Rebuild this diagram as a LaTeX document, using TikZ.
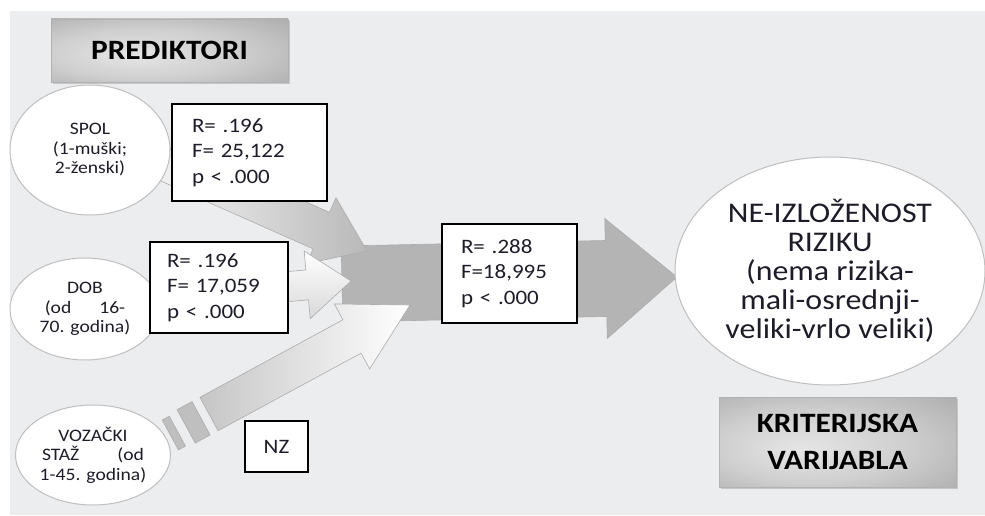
\documentclass[tikz,border=0pt]{standalone}
\usepackage{fontspec}
\setmainfont{Carlito}[FakeStretch=1.12]
\usetikzlibrary{calc,shapes.geometric,shadows}
\definecolor{BGGRAY}{RGB}{236,237,239}
\definecolor{ARROWGRAY}{RGB}{180,180,180}
\definecolor{INK}{RGB}{30,28,40}
\pgfdeclareradialshading{BUBBLESHADE}{\pgfpoint{0bp}{0bp}}{color(0bp)=(white); color(32bp)=(white); color(44bp)=(gray!20); color(50bp)=(gray!45)}
\pgfdeclareradialshading{HEADSHADE}{\pgfpoint{-8bp}{-4bp}}{color(0bp)=(gray!20); color(20bp)=(gray!38); color(45bp)=(gray!72); color(60bp)=(gray!88)}
\tikzset{
BUBBLE/.style={ellipse, draw=gray!50, line width=1pt, shade, shading=BUBBLESHADE, align=center, inner sep=0pt, text=INK, font=\fontsize{17.5}{19.5}\selectfont},
VALBOX/.style={draw=black, line width=1.4pt, fill=white, align=left, inner sep=0pt, text=INK, font=\fontsize{20.5}{25.5}\selectfont},
HEADER/.style={draw=gray!60, line width=0.8pt, shade, shading=HEADSHADE, align=center, text=black, font=\bfseries\fontsize{28}{37}\selectfont, drop shadow={shadow xshift=1.5pt, shadow yshift=-2pt, opacity=0.35}},
ARC/.style={draw=gray!65, line width=0.6pt, line join=miter},
}
% block arrow: style, tail, tip, half shaft, half head, head length
\newcommand{\blockarrow}[6]{%
  \coordinate (ba) at ($(#3)!#6!(#2)$);
  \path[#1] ($(#2)!#4!90:(#3)$) -- ($(ba)!#4!90:(#3)$) -- ($(ba)!#5!90:(#3)$) -- (#3)
    -- ($(ba)!#5!-90:(#3)$) -- ($(ba)!#4!-90:(#3)$) -- ($(#2)!#4!-90:(#3)$) -- cycle;}
% straight piece between two points: style, from, to, half width
\newcommand{\blockseg}[4]{%
  \path[#1] ($(#2)!#4!90:(#3)$) -- ($(#3)!#4!-90:(#2)$) -- ($(#3)!#4!90:(#2)$) -- ($(#2)!#4!-90:(#3)$) -- cycle;}

\begin{document}
\begin{tikzpicture}[x=1pt, y=-1pt] % prediktori -> kriterij
	\useasboundingbox (0,0) rectangle (985,516);
	\fill[BGGRAY] (10,11) rectangle (985,515);
	\coordinate (sumTail) at (342,284);
	\coordinate (sumTip) at (677,277);
	\coordinate (spolTail) at (165,161);
	\coordinate (spolTip) at (367,251);
	\coordinate (dobTail) at (160,298);
	\coordinate (dobTip) at (351,281);
	\coordinate (vozTail) at (209,414);
	\coordinate (vozTip) at (410,305);
	\blockarrow{ARC, fill=ARROWGRAY}{sumTail}{sumTip}{38pt}{60pt}{71pt}
	\blockarrow{ARC, left color=gray!10, right color=gray!55}{spolTail}{spolTip}{20pt}{36pt}{50pt}
	\blockarrow{ARC, top color=white, bottom color=gray!30}{dobTail}{dobTip}{15pt}{34pt}{44pt}
	\blockarrow{ARC, left color=gray!45, right color=white}{vozTail}{vozTip}{19pt}{37pt}{66pt}
	\coordinate (dashA) at ($(vozTail)!-9pt!(vozTip)$);
	\coordinate (dashB) at ($(vozTail)!-26pt!(vozTip)$);
	\coordinate (dashC) at ($(vozTail)!-36pt!(vozTip)$);
	\coordinate (dashD) at ($(vozTail)!-44pt!(vozTip)$);
	\blockseg{ARC, fill=gray!50}{dashA}{dashB}{19pt}
	\blockseg{ARC, fill=gray!50}{dashC}{dashD}{17pt}

	\node[HEADER, minimum width=237pt, minimum height=63pt] (pred) at (169.5,50.5) {PREDIKTORI};
	\node[BUBBLE, minimum width=160pt, minimum height=130pt] (spol) at (90,150) {SPOL\\(1-muški;\\2-ženski)};
	\node[BUBBLE, minimum width=150pt, minimum height=102pt] (dob) at (85,309) {DOB\\(od\hspace{28pt}16-\\70. godina)};
	\node[BUBBLE, minimum width=155pt, minimum height=100pt] (voz) at (93,455) {VOZAČKI\\STAŽ\hspace{38pt}(od\\1-45. godina)};
	\node[VALBOX, minimum width=155pt, minimum height=97pt, text width=115pt] (spolval) at (249.5,152.5) {R= .196\\F= 25,122\\p < .000};
	\node[VALBOX, minimum width=138pt, minimum height=91pt, text width=104pt] (dobval) at (219,287.5) {R= .196\\F= 17,059\\p < .000};
	\node[VALBOX, align=center, minimum width=63pt, minimum height=51pt] (nz) at (276.5,446.5) {NZ};
	\node[VALBOX, minimum width=135pt, minimum height=99pt, text width=97pt] (sumval) at (509.5,273.5) {R= .288\\F=18,995\\p < .000};
	\node[BUBBLE, minimum width=310pt, minimum height=228pt, font=\fontsize{28.5}{29}\selectfont] (crit) at (830,271) {NE-IZLOŽENOST\\RIZIKU\\(nema rizika-\\mali-osrednji-\\veliki-vrlo veliki)};
	\node[HEADER, minimum width=237pt, minimum height=90pt] (critlab) at (837.5,442) {KRITERIJSKA\\VARIJABLA};
\end{tikzpicture}
\end{document}
